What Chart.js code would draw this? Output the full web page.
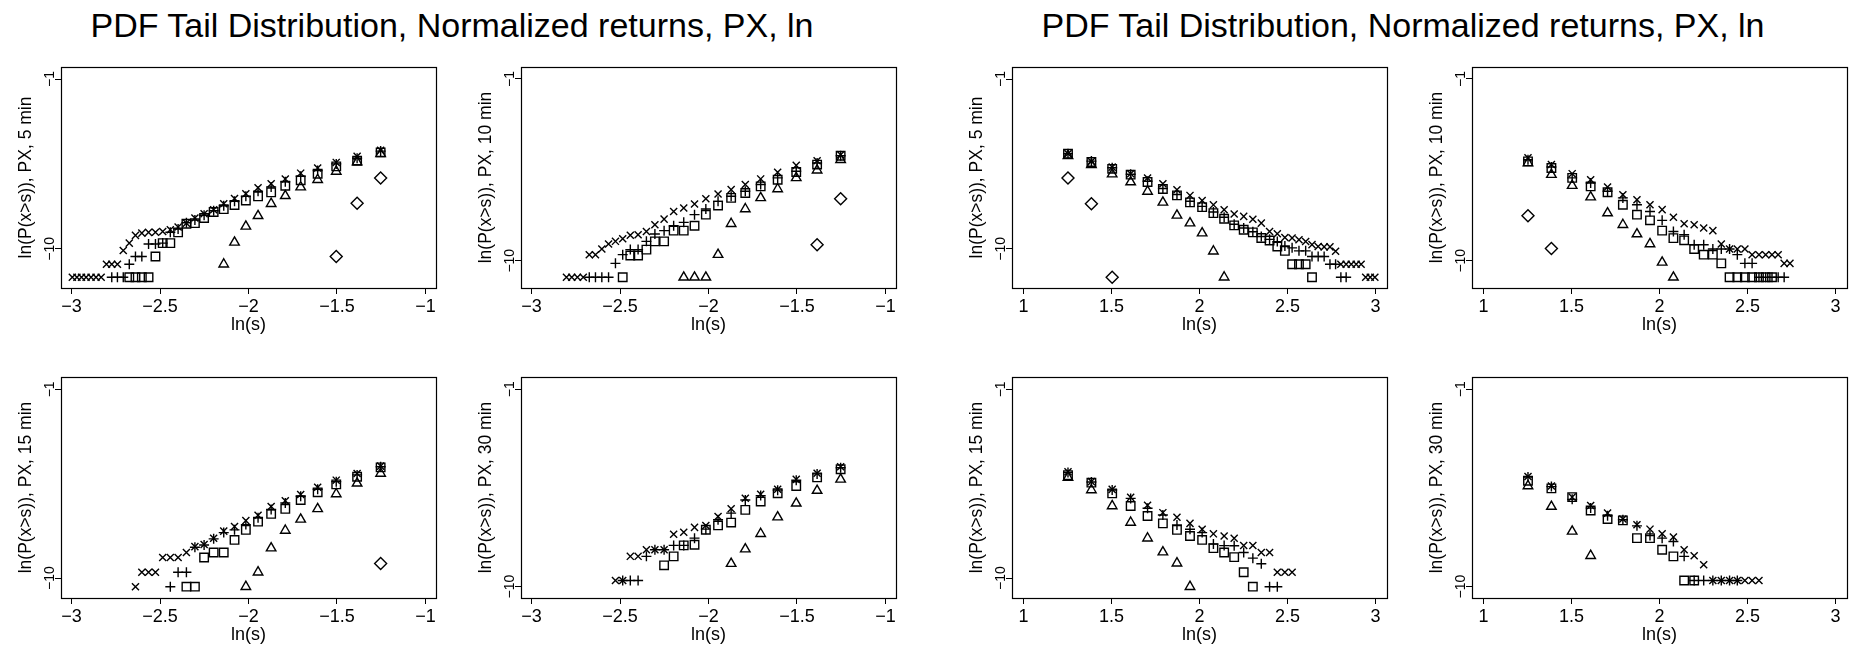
<!DOCTYPE html>
<html>
<head>
<meta charset="utf-8">
<script src="https://cdn.jsdelivr.net/npm/chart.js@4.4.1/dist/chart.umd.min.js"></script>
<style>
  html, body { margin: 0; padding: 0; background: #fff; }
  body { width: 1850px; height: 649px; position: relative; overflow: hidden; font-family: "Liberation Sans", Arial, sans-serif; }
  .main { position: absolute; top: 8px; width: 900px; text-align: center; font-size: 34px; line-height: 34px; color: #000; white-space: nowrap; }
  canvas { position: absolute; }
</style>
</head>
<body>
<div class="main" style="left:2px">PDF Tail Distribution, Normalized returns, PX, ln</div>
<div class="main" style="left:953px">PDF Tail Distribution, Normalized returns, PX, ln</div>

<canvas id="neg5" width="460" height="297" style="left:0px;top:40px"></canvas>
<canvas id="neg10" width="460" height="297" style="left:460px;top:40px"></canvas>
<canvas id="pos5" width="460" height="297" style="left:951px;top:40px"></canvas>
<canvas id="pos10" width="460" height="297" style="left:1411px;top:40px"></canvas>
<canvas id="neg15" width="460" height="297" style="left:0px;top:350px"></canvas>
<canvas id="neg30" width="460" height="297" style="left:460px;top:350px"></canvas>
<canvas id="pos15" width="460" height="297" style="left:951px;top:350px"></canvas>
<canvas id="pos30" width="460" height="297" style="left:1411px;top:350px"></canvas>

<script>
// |ln(s)| grid, one entry per threshold; left-tail panels plot it mirrored
const lnS = [1.253, 1.386, 1.504, 1.609, 1.705, 1.792, 1.872, 1.946, 2.015, 2.079,
  2.140, 2.197, 2.251, 2.303, 2.351, 2.398, 2.442, 2.485, 2.526, 2.565,
  2.603, 2.639, 2.674, 2.708, 2.741, 2.773, 2.803, 2.833, 2.862, 2.890,
  2.918, 2.944, 2.970, 2.996];

const xTicksNeg = [-3, -2.5, -2, -1.5, -1];
const xTicksPos = [1, 1.5, 2, 2.5, 3];
const yTicks = [-10, -1];

// ln(P(x>s)) per marker series, indexed like lnS
// left tail, 5 min
const neg5Cross = [-4.78, -5.10, -5.42, -5.72, -5.99, -6.30, -6.55, -6.76, -7.08, -7.33, -7.61, -7.93, -8.14, -8.37, -8.64, -8.85, -8.99, -9.08, -9.12, -9.13, -9.17, -9.29, -9.70, -10.09, -10.82, -10.82, -10.82, -11.51, -11.51, -11.51, -11.51, -11.51, -11.51, -11.51];
const neg5Plus = [-4.82, -5.20, -5.50, -5.85, -6.15, -6.45, -6.72, -6.95, -7.22, -7.48, -7.72, -7.98, -8.22, -8.48, -8.62, -8.95, -9.12, -9.70, -9.75, -9.75, -10.41, -10.41, -10.82, -11.51, -11.51, -11.51];
const neg5Square = [-4.89, -5.33, -5.63, -6.02, -6.37, -6.66, -7.01, -7.22, -7.44, -7.68, -7.90, -8.05, -8.37, -8.64, -8.67, -9.13, -9.70, -9.70, -10.41, -11.51, -11.51, -11.51, -11.51];
const neg5Tri = [-4.96, -5.40, -5.90, -6.34, -6.73, -7.19, -7.61, -8.25, -8.81, -9.66, -10.82];
const neg5Diamond = [-6.25, -7.58, -10.41];

// left tail, 10 min
const neg10Cross = [-4.75, -5.05, -5.28, -5.62, -5.95, -6.23, -6.48, -6.70, -6.93, -7.19, -7.39, -7.56, -7.94, -8.22, -8.55, -8.71, -8.74, -8.91, -9.04, -9.17, -9.42, -9.70, -9.70, -10.82, -10.82, -10.82, -10.82];
const neg10Plus = [-4.80, -5.16, -5.57, -5.90, -6.23, -6.56, -6.81, -7.06, -7.44, -7.72, -8.10, -8.27, -8.51, -8.68, -9.04, -9.45, -9.45, -9.70, -10.13, -10.82, -10.82, -10.82, -10.82];
const neg10Square = [-4.80, -5.24, -5.61, -5.99, -6.32, -6.65, -6.89, -7.27, -7.72, -8.27, -8.51, -8.51, -9.04, -9.04, -9.45, -9.74, -9.74, -10.82];
const neg10Tri = [-5.00, -5.52, -5.90, -6.45, -6.89, -7.44, -8.17, -9.70, -10.82, -10.82, -10.82];
const neg10Diamond = [-6.93, -9.21];

// right tail, 5 min
const pos5Cross = [-4.96, -5.37, -5.67, -6.02, -6.25, -6.55, -6.87, -7.17, -7.44, -7.67, -7.93, -8.16, -8.28, -8.43, -8.64, -9.08, -9.20, -9.40, -9.43, -9.52, -9.61, -9.78, -9.88, -9.90, -9.90, -10.13, -10.82, -10.82, -10.82, -10.82, -10.82, -11.51, -11.51, -11.51];
const pos5Plus = [-4.96, -5.35, -5.70, -6.05, -6.42, -6.80, -7.12, -7.48, -7.75, -8.05, -8.33, -8.70, -8.90, -9.10, -9.35, -9.50, -9.62, -9.85, -9.95, -10.11, -10.11, -10.41, -10.41, -10.41, -10.82, -10.82, -11.51, -11.51];
const pos5Square = [-4.96, -5.40, -5.76, -6.07, -6.46, -6.83, -7.17, -7.54, -7.79, -8.11, -8.41, -8.76, -8.99, -9.13, -9.43, -9.56, -9.88, -10.11, -10.82, -10.82, -10.82, -11.51];
const pos5Tri = [-5.07, -5.54, -6.04, -6.46, -6.96, -7.54, -8.23, -8.64, -9.17, -10.13, -11.51];
const pos5Diamond = [-6.25, -7.61, -11.51];

// right tail, 10 min
const pos10Cross = [-4.91, -5.24, -5.69, -5.99, -6.35, -6.73, -6.98, -7.23, -7.47, -7.85, -8.17, -8.22, -8.38, -8.51, -9.17, -9.42, -9.42, -9.42, -9.70, -9.70, -9.70, -9.70, -9.70, -10.13, -10.13];
const pos10Plus = [-5.00, -5.36, -5.90, -6.15, -6.56, -6.89, -7.23, -7.56, -8.00, -8.55, -8.71, -9.21, -9.21, -9.42, -9.42, -9.42, -9.70, -10.13, -10.13, -10.82, -10.82, -10.82, -10.82, -10.82];
const pos10Square = [-5.08, -5.41, -5.90, -6.32, -6.61, -7.23, -7.72, -8.00, -8.51, -8.88, -8.99, -9.42, -9.70, -9.70, -10.13, -10.82, -10.82, -10.82, -10.82, -10.82, -10.82, -10.82];
const pos10Tri = [-5.16, -5.74, -6.28, -6.85, -7.64, -8.22, -8.68, -9.17, -10.08, -10.82];
const pos10Diamond = [-7.77, -9.40];

// left tail, 15 min
const neg15Cross = [-4.66, -5.01, -5.33, -5.67, -6.01, -6.31, -6.59, -7.00, -7.26, -7.54, -7.76, -8.10, -8.40, -8.50, -8.78, -9.02, -9.02, -9.02, -9.72, -9.72, -9.72, -10.41];
const neg15Plus = [-4.69, -5.08, -5.40, -5.76, -6.10, -6.42, -6.73, -7.12, -7.45, -7.70, -7.83, -8.13, -8.42, -8.53, -9.72, -9.72, -10.41];
const neg15Square = [-4.72, -5.17, -5.53, -5.91, -6.28, -6.70, -6.94, -7.31, -7.70, -8.18, -8.78, -8.78, -9.02, -10.41, -10.41];
const neg15Tri = [-5.01, -5.48, -5.99, -6.70, -7.20, -7.73, -8.57, -9.72, -10.41];
const neg15Diamond = [-9.31];

// left tail, 30 min
const neg30Cross = [-4.53, -4.83, -5.11, -5.56, -5.79, -5.97, -6.45, -6.80, -7.21, -7.30, -7.52, -7.61, -8.32, -8.32, -8.32, -8.62, -8.62, -9.72, -9.72];
const neg30Plus = [-4.58, -4.86, -5.15, -5.60, -5.85, -6.05, -6.65, -6.95, -7.38, -7.79, -8.12, -8.12, -8.32, -8.32, -8.62, -9.72, -9.72, -9.72];
const neg30Square = [-4.65, -5.02, -5.41, -5.74, -6.12, -6.50, -7.08, -7.21, -7.41, -8.09, -8.12, -8.62, -9.03];
const neg30Tri = [-5.11, -5.62, -6.20, -6.83, -7.59, -8.29, -8.95];
const neg30Diamond = [];

// right tail, 15 min
const pos15Cross = [-4.93, -5.40, -5.77, -6.15, -6.53, -6.88, -7.10, -7.39, -7.67, -7.89, -7.99, -8.10, -8.45, -8.45, -8.78, -8.78, -9.72, -9.72, -9.72];
const pos15Plus = [-4.96, -5.42, -5.80, -6.20, -6.67, -6.99, -7.47, -7.67, -7.83, -8.38, -8.45, -8.46, -8.78, -9.05, -9.32, -10.41, -10.41];
const pos15Square = [-5.09, -5.45, -5.96, -6.56, -7.04, -7.39, -7.70, -7.99, -8.18, -8.57, -8.78, -9.00, -9.72, -10.41];
const pos15Tri = [-5.20, -5.80, -6.56, -7.35, -8.10, -8.76, -9.29, -10.41];
const pos15Diamond = [];

// right tail, 30 min
const pos30Cross = [-4.98, -5.41, -5.92, -6.30, -6.65, -6.92, -7.18, -7.38, -7.59, -7.74, -8.32, -8.59, -9.00, -9.72, -9.72, -9.72, -9.72, -9.72, -9.72, -9.72];
const pos30Plus = [-5.00, -5.44, -6.02, -6.42, -6.77, -6.95, -7.23, -7.67, -7.79, -7.94, -8.62, -9.72, -9.72, -9.72, -9.72, -9.72, -9.72];
const pos30Square = [-5.17, -5.52, -5.92, -6.53, -6.92, -6.98, -7.79, -7.79, -8.32, -8.62, -9.72, -9.72];
const pos30Tri = [-5.41, -6.35, -7.48, -8.59];
const pos30Diamond = [];

// R-style open plotting symbols (pch 4, 3, 0, 2, 5)
const markers = [
  { name: 'cross', style: 'crossRot', radius: 5 },
  { name: 'plus', style: 'cross', radius: 5 },
  { name: 'square', style: 'rect', radius: 6 },
  { name: 'triangle', style: 'triangle', radius: 5.5 },
  { name: 'diamond', style: 'rectRot', radius: 6 }
];

const panels = [
  { id: 'neg5', side: -1, span: '5 min', y: [-12.08, -0.36], series: [neg5Cross, neg5Plus, neg5Square, neg5Tri, neg5Diamond] },
  { id: 'neg10', side: -1, span: '10 min', y: [-11.35, -0.41], series: [neg10Cross, neg10Plus, neg10Square, neg10Tri, neg10Diamond] },
  { id: 'pos5', side: 1, span: '5 min', y: [-12.08, -0.36], series: [pos5Cross, pos5Plus, pos5Square, pos5Tri, pos5Diamond] },
  { id: 'pos10', side: 1, span: '10 min', y: [-11.35, -0.41], series: [pos10Cross, pos10Plus, pos10Square, pos10Tri, pos10Diamond] },
  { id: 'neg15', side: -1, span: '15 min', y: [-10.95, -0.41], series: [neg15Cross, neg15Plus, neg15Square, neg15Tri, neg15Diamond] },
  { id: 'neg30', side: -1, span: '30 min', y: [-10.52, -0.44], series: [neg30Cross, neg30Plus, neg30Square, neg30Tri, neg30Diamond] },
  { id: 'pos15', side: 1, span: '15 min', y: [-10.95, -0.41], series: [pos15Cross, pos15Plus, pos15Square, pos15Tri, pos15Diamond] },
  { id: 'pos30', side: 1, span: '30 min', y: [-10.52, -0.44], series: [pos30Cross, pos30Plus, pos30Square, pos30Tri, pos30Diamond] }
];

const FONT = '"Liberation Sans", Arial, sans-serif';
const minus = v => String(v).replace('-', '\u2212');

// plain box around the plotting region
const boxFrame = {
  id: 'boxFrame',
  afterDraw(chart) {
    const { ctx, chartArea: a } = chart;
    ctx.save();
    ctx.strokeStyle = '#000';
    ctx.lineWidth = 1.2;
    ctx.strokeRect(Math.round(a.left) + 0.5, Math.round(a.top) + 0.5,
      Math.round(a.right - a.left), Math.round(a.bottom - a.top));
    ctx.restore();
  }
};

const tickGrid = { display: true, drawOnChartArea: false, drawTicks: true, tickLength: 6, color: '#000', lineWidth: 1 };

panels.forEach(p => {
  const datasets = p.series.map((vals, k) => ({
    label: markers[k].name,
    data: vals.map((v, i) => ({ x: p.side * lnS[i], y: v })),
    pointStyle: markers[k].style,
    pointRadius: markers[k].radius,
    pointBorderColor: '#000',
    pointBackgroundColor: 'rgba(0,0,0,0)',
    pointBorderWidth: 1.4,
    showLine: false
  }));
  const xt = p.side < 0 ? xTicksNeg : xTicksPos;

  new Chart(document.getElementById(p.id), {
    type: 'scatter',
    data: { datasets },
    plugins: [boxFrame],
    options: {
      responsive: false,
      animation: false,
      events: [],
      layout: { padding: { top: 27, right: 24, left: 0, bottom: 0 } },
      plugins: { legend: { display: false }, tooltip: { enabled: false } },
      scales: {
        x: {
          type: 'linear',
          position: 'bottom',
          bounds: 'data',
          min: p.side < 0 ? -3.06 : 0.935,
          max: p.side < 0 ? -0.94 : 3.065,
          afterBuildTicks: s => { s.ticks = xt.map(v => ({ value: v })); },
          afterFit: s => { s.height = 49; },
          grid: tickGrid,
          border: { display: false },
          ticks: { color: '#000', font: { family: FONT, size: 18 }, padding: 2, minRotation: 0, maxRotation: 0, autoSkip: false, callback: minus },
          title: { display: true, text: 'ln(s)', color: '#000', font: { family: FONT, size: 18 }, padding: { top: 0, bottom: 1 } }
        },
        y: {
          type: 'linear',
          position: 'left',
          bounds: 'data',
          min: p.y[0],
          max: p.y[1],
          afterBuildTicks: s => { s.ticks = yTicks.map(v => ({ value: v })); },
          afterFit: s => { s.width = 61; },
          grid: tickGrid,
          border: { display: false },
          ticks: { color: '#000', font: { family: FONT, size: 14 }, padding: -7, minRotation: 90, maxRotation: 90, crossAlign: 'center', autoSkip: false, callback: minus },
          title: { display: true, text: 'ln(P(x>s)), PX, ' + p.span, color: '#000', font: { family: FONT, size: 17.5 }, padding: { top: 15.4, bottom: 0 } }
        }
      }
    }
  });
});
</script>
</body>
</html>
